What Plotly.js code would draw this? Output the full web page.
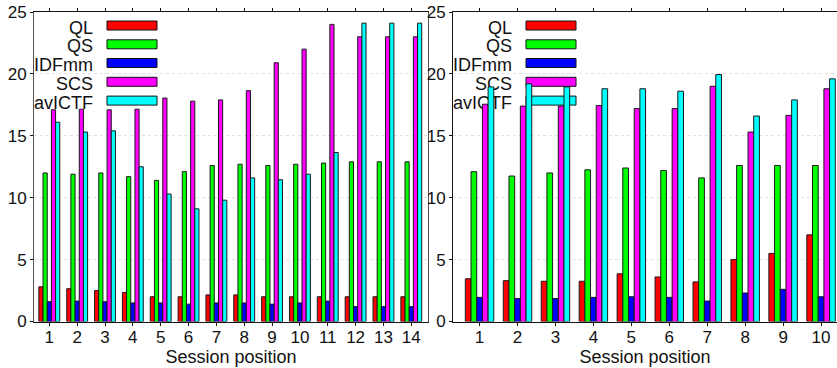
<!DOCTYPE html>
<html>
<head>
<meta charset="utf-8">
<script src="https://cdn.plot.ly/plotly-3.0.1.min.js"></script>
<style>html,body{margin:0;padding:0;overflow:hidden;background:#fff}</style>
</head>
<body>
<div id="chart" style="width:837px;height:368px"></div>
<script>
// ---- data ----
const seriesNames = ['QL', 'QS', 'IDFmm', 'SCS', 'avICTF'];
const seriesColors = ['#ff0000', '#00ff00', '#0000ff', '#ff00ff', '#00ffff'];

const leftPositions = [1,2,3,4,5,6,7,8,9,10,11,12,13,14];
const leftQL     = [2.8, 2.65, 2.5, 2.35, 2.0, 2.0, 2.15, 2.15, 2.0, 2.0, 2.0, 2.0, 2.0, 2.0];
const leftQS     = [12.0, 11.9, 12.0, 11.7, 11.4, 12.1, 12.6, 12.7, 12.6, 12.7, 12.8, 12.9, 12.9, 12.9];
const leftIDFmm  = [1.6, 1.65, 1.6, 1.5, 1.5, 1.4, 1.5, 1.5, 1.4, 1.5, 1.65, 1.2, 1.2, 1.2];
const leftSCS    = [17.1, 17.15, 17.1, 17.15, 18.05, 17.8, 17.9, 18.65, 20.9, 22.0, 24.0, 23.0, 23.0, 23.0];
const leftAvICTF = [16.1, 15.3, 15.4, 12.5, 10.3, 9.1, 9.8, 11.6, 11.45, 11.9, 13.65, 24.1, 24.1, 24.1];

const rightPositions = [1,2,3,4,5,6,7,8,9,10];
const rightQL     = [3.45, 3.3, 3.25, 3.25, 3.85, 3.6, 3.2, 5.0, 5.5, 7.0];
const rightQS     = [12.1, 11.75, 12.0, 12.25, 12.4, 12.2, 11.6, 12.6, 12.6, 12.6];
const rightIDFmm  = [1.95, 1.85, 1.85, 1.95, 2.0, 1.95, 1.65, 2.3, 2.6, 2.0];
const rightSCS    = [17.55, 17.4, 17.4, 17.45, 17.2, 17.2, 19.0, 15.3, 16.65, 18.8];
const rightAvICTF = [18.95, 19.2, 18.95, 18.8, 18.8, 18.6, 19.95, 16.6, 17.9, 19.6];

const yTicks = [0, 5, 10, 15, 20, 25];
const xTitle = 'Session position';

// ---- layout helpers ----
const W = 837, H = 368;
const px = v => v / W;
const py = v => 1 - v / H;
const FONT = 'Liberation Sans, Arial, sans-serif';

const leftSeries = [leftQL, leftQS, leftIDFmm, leftSCS, leftAvICTF];
const rightSeries = [rightQL, rightQS, rightIDFmm, rightSCS, rightAvICTF];

const traces = [];
seriesNames.forEach((name, i) => {
  traces.push({
    type: 'bar', name: name, x: leftPositions, y: leftSeries[i],
    xaxis: 'x', yaxis: 'y', showlegend: false,
    marker: {color: seriesColors[i], line: {color: '#1a1a1a', width: 1}}
  });
});
seriesNames.forEach((name, i) => {
  traces.push({
    type: 'bar', name: name, x: rightPositions, y: rightSeries[i],
    xaxis: 'x2', yaxis: 'y2', showlegend: false,
    marker: {color: seriesColors[i], line: {color: '#1a1a1a', width: 1}}
  });
});

// legend drawn as shapes beneath bars
const shapes = [];
const rowCenters = [25.5, 44.3, 63, 81.8, 100.6];
function addLegend(ax0) {
  shapes.push({type: 'rect', xref: 'paper', yref: 'paper', layer: 'between',
    x0: px(ax0 + 1), x1: px(ax0 + 133), y0: py(110), y1: py(13),
    fillcolor: '#ffffff', line: {width: 0}});
  seriesNames.forEach((name, i) => {
    const c = rowCenters[i];
    shapes.push({type: 'rect', xref: 'paper', yref: 'paper', layer: 'between',
      x0: px(ax0 + 73), x1: px(ax0 + 123), y0: py(c + 4.5), y1: py(c - 4.5),
      fillcolor: seriesColors[i], line: {color: '#111', width: 1}});
    shapes.push({type: 'rect', xref: 'paper', yref: 'paper', layer: 'between',
      x0: px(ax0 - 10), x1: px(ax0 + 62), y0: py(c + 9), y1: py(c - 9),
      fillcolor: 'rgba(0,0,0,0)', line: {width: 0},
      label: {text: name, textposition: 'middle right', padding: 0,
              font: {family: FONT, size: 18, color: '#111'}}});
  });
}
addLegend(34);
addLegend(453);

const tickFont = {family: FONT, size: 17, color: '#111'};
const titleFont = {family: FONT, size: 18, color: '#111'};
const yDomain = [py(321.5), py(12)];
const gridCol = '#e2e2e2';

const layout = {
  width: W, height: H, autosize: false,
  margin: {l: 0, r: 0, t: 0, b: 0, pad: 0},
  paper_bgcolor: '#fff', plot_bgcolor: '#fff',
  barmode: 'group', bargap: 0.25, bargroupgap: 0,
  showlegend: false,
  xaxis: {
    domain: [px(34), px(428)], anchor: 'y', range: [0.45, 14.6],
    tickmode: 'array', tickvals: leftPositions, ticktext: leftPositions.map(String),
    ticks: 'outside', ticklen: 3, tickcolor: '#111', showline: true, linecolor: '#111',
    mirror: 'ticks', showgrid: false, zeroline: false, tickfont: tickFont,
    ticklabelstandoff: -3,
    title: {text: xTitle, font: titleFont, standoff: 2}
  },
  yaxis: {
    domain: yDomain, anchor: 'x', range: [0, 25],
    tickmode: 'array', tickvals: yTicks,
    ticks: 'outside', ticklen: 3, tickcolor: '#111', showline: true, linecolor: '#555',
    mirror: true, showgrid: true, gridcolor: gridCol, griddash: 'dot', zeroline: false,
    tickfont: tickFont
  },
  xaxis2: {
    domain: [px(453), 1], anchor: 'y2', range: [0.3, 10.42],
    tickmode: 'array', tickvals: rightPositions, ticktext: rightPositions.map(String),
    ticks: 'outside', ticklen: 3, tickcolor: '#111', showline: true, linecolor: '#111',
    mirror: 'ticks', showgrid: false, zeroline: false, tickfont: tickFont,
    ticklabelstandoff: -3,
    title: {text: xTitle, font: titleFont, standoff: 2}
  },
  yaxis2: {
    domain: yDomain, anchor: 'x2', range: [0, 25],
    tickmode: 'array', tickvals: yTicks,
    ticks: 'outside', ticklen: 3, tickcolor: '#111', showline: true, linecolor: '#111',
    mirror: false, showgrid: true, gridcolor: gridCol, griddash: 'dot', zeroline: false,
    tickfont: tickFont
  },
  shapes: shapes
};

Plotly.newPlot('chart', traces, layout, {displayModeBar: false, staticPlot: true});
</script>
</body>
</html>
